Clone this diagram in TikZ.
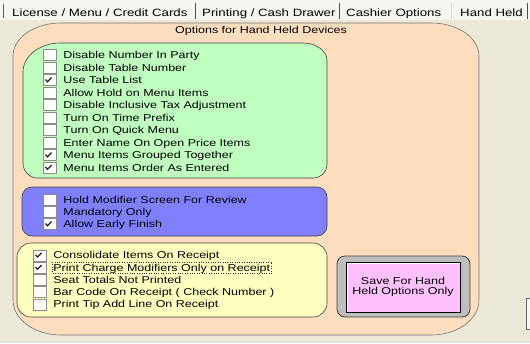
\documentclass[tikz,border=0pt]{standalone}
\usepackage{fontspec}
\newfontfamily\uifont{Liberation Sans}[FakeStretch=1.25]
\usetikzlibrary{positioning}
\definecolor{winbg}{HTML}{ECE9D8}
\definecolor{tabbg}{HTML}{F6F5F0}
\definecolor{peach}{HTML}{FFDEBF}
\definecolor{greenfill}{HTML}{C0FFC0}
\definecolor{bluefill}{HTML}{8080FF}
\definecolor{yellowfill}{HTML}{FFFFC0}
\definecolor{pinkfill}{HTML}{FFC0FF}
\definecolor{btngray}{HTML}{BEBEBE}
\definecolor{tabblue}{HTML}{2F5FD0}

\begin{document}
\begin{tikzpicture}[x=1pt,y=-1pt,
  panel/.style={draw=black!75,line width=.6pt},
  cbox/.style={draw=black!45,fill=white,minimum width=13pt,minimum height=11pt,inner sep=0pt},
  opt/.style={font=\uifont\fontsize{10}{12}\selectfont,inner sep=0pt,text height=7.5pt,text depth=.5pt,anchor=west},
  tabtext/.style={font=\uifont\fontsize{10.6}{13}\selectfont,inner sep=0pt},
  tabsep/.style={draw=black!70,line width=.8pt},
  chkmark/.style={line width=1.3pt,black!85}]
  \fill[winbg] (0,0) rectangle (530,343);
  \useasboundingbox (0,0) rectangle (530,343);
  % tab strip
  \fill[tabbg] (0,0) rectangle (530,20);
  \draw[tabblue,line width=1pt] (3,4) -- (3,18);
  \node[tabtext,anchor=base west] (tab1) at (12,16) {License / Menu / Credit Cards};
  \node[tabtext,anchor=base west] (tab2) at (202,16) {Printing / Cash Drawer};
  \node[tabtext,anchor=base west] (tab3) at (346,16) {Cashier Options};
  \node[tabtext,anchor=base west] (tab4) at (460,16) {Hand Held};
  \draw[tabsep] (195,3) -- (195,19);
  \draw[tabsep] (339,3) -- (339,19);
  \draw[black!15] (451,3) -- (451,19);
  \draw[tabsep] (527,3) -- (527,19);
  \draw[black!12] (0,341) -- (530,341);
  % outer panel
  \draw[panel,draw=black!55,fill=peach] (13,56) .. controls (13,38) and (34,23) .. (61,23)
    -- (431,23) .. controls (458,23) and (479,38) .. (479,56)
    -- (479,300) .. controls (479,319) and (458,335) .. (431,335)
    -- (61,335) .. controls (34,335) and (13,319) .. (13,300) -- cycle;
  \node[opt,anchor=center] (title) at (261,30) {Options for Hand Held Devices};
  % option groups
  \draw[panel,fill=greenfill] (23,72) .. controls (23,56) and (40,43) .. (60,43)
    -- (303,43) .. controls (316,43) and (327,51) .. (327,60)
    -- (327,165) .. controls (327,172) and (321,178) .. (313,178)
    -- (37,178) .. controls (29,178) and (23,170) .. (23,164) -- cycle;
  \draw[panel,fill=bluefill,rounded corners=10pt] (22,187) rectangle (327,236);
  \draw[panel,fill=yellowfill,rounded corners=14pt] (17,243) rectangle (327,317);
  \foreach \txt/\chk [count=\i] in {Disable Number In Party/0,Disable Table Number/0,
      Use Table List/1,Allow Hold on Menu Items/0,Disable Inclusive Tax Adjustment/0,
      Turn On Time Prefix/0,Turn On Quick Menu/0,Enter Name On Open Price Items/0,
      Menu Items Grouped Together/1,Menu Items Order As Entered/1}{
    \node[cbox] (g\i) at (49.5,{42.5+12.5*\i}) {};
    \node[opt,right=7pt of g\i] (gl\i) {\txt};
    \ifnum\chk=1 \draw[chkmark] ([shift={(-4,-0.5)}]g\i.center) -- ++(2,2.3) -- ++(4,-4.2); \fi
  }
  \foreach \txt/\chk [count=\i] in {Hold Modifier Screen For Review/0,Mandatory Only/0,
      Allow Early Finish/1}{
    \node[cbox] (b\i) at (49.5,{188+12*\i}) {};
    \node[opt,right=7pt of b\i] (bl\i) {\txt};
    \ifnum\chk=1 \draw[chkmark] ([shift={(-4,-0.5)}]b\i.center) -- ++(2,2.3) -- ++(4,-4.2); \fi
  }
  \foreach \txt/\chk [count=\i] in {Consolidate Items On Receipt/1,
      Print Charge Modifiers Only on Receipt/1,Seat Totals Not Printed/0,
      Bar Code On Receipt ( Check Number )/0,Print Tip Add Line On Receipt/0}{
    \node[cbox] (y\i) at (39.5,{243+12.25*\i}) {};
    \node[opt,right=7pt of y\i] (yl\i) {\txt};
    \ifnum\chk=1 \draw[chkmark] ([shift={(-4,-0.5)}]y\i.center) -- ++(2,2.3) -- ++(4,-4.2); \fi
  }
  \draw[dotted,black!80] ([shift={(-1,-1.5)}]yl2.north west) rectangle ([shift={(1,1.5)}]yl2.south east);
  % save button
  \draw[panel,fill=btngray,rounded corners=8pt,line width=.8pt] (337,256) rectangle (470,317);
  \node[draw=black,line width=.8pt,fill=pinkfill,minimum width=114pt,minimum height=50pt,
    inner sep=0pt,align=center,font=\uifont\fontsize{10}{10}\selectfont] (savebtn) at (403,287)
    {Save For Hand\\Held Options Only};
  \draw[white,line width=.8pt] ([shift={(1.4,-1.4)}]savebtn.south west)
    -- ([shift={(1.4,1.4)}]savebtn.north west) -- ([shift={(-1.4,1.4)}]savebtn.north east);
  % clipped button at the right edge
  \draw[black!60,line width=.8pt,fill=white!60!winbg] (531,298) -- (526,298) -- (526,329) -- (531,329);
\end{tikzpicture}
\end{document}
